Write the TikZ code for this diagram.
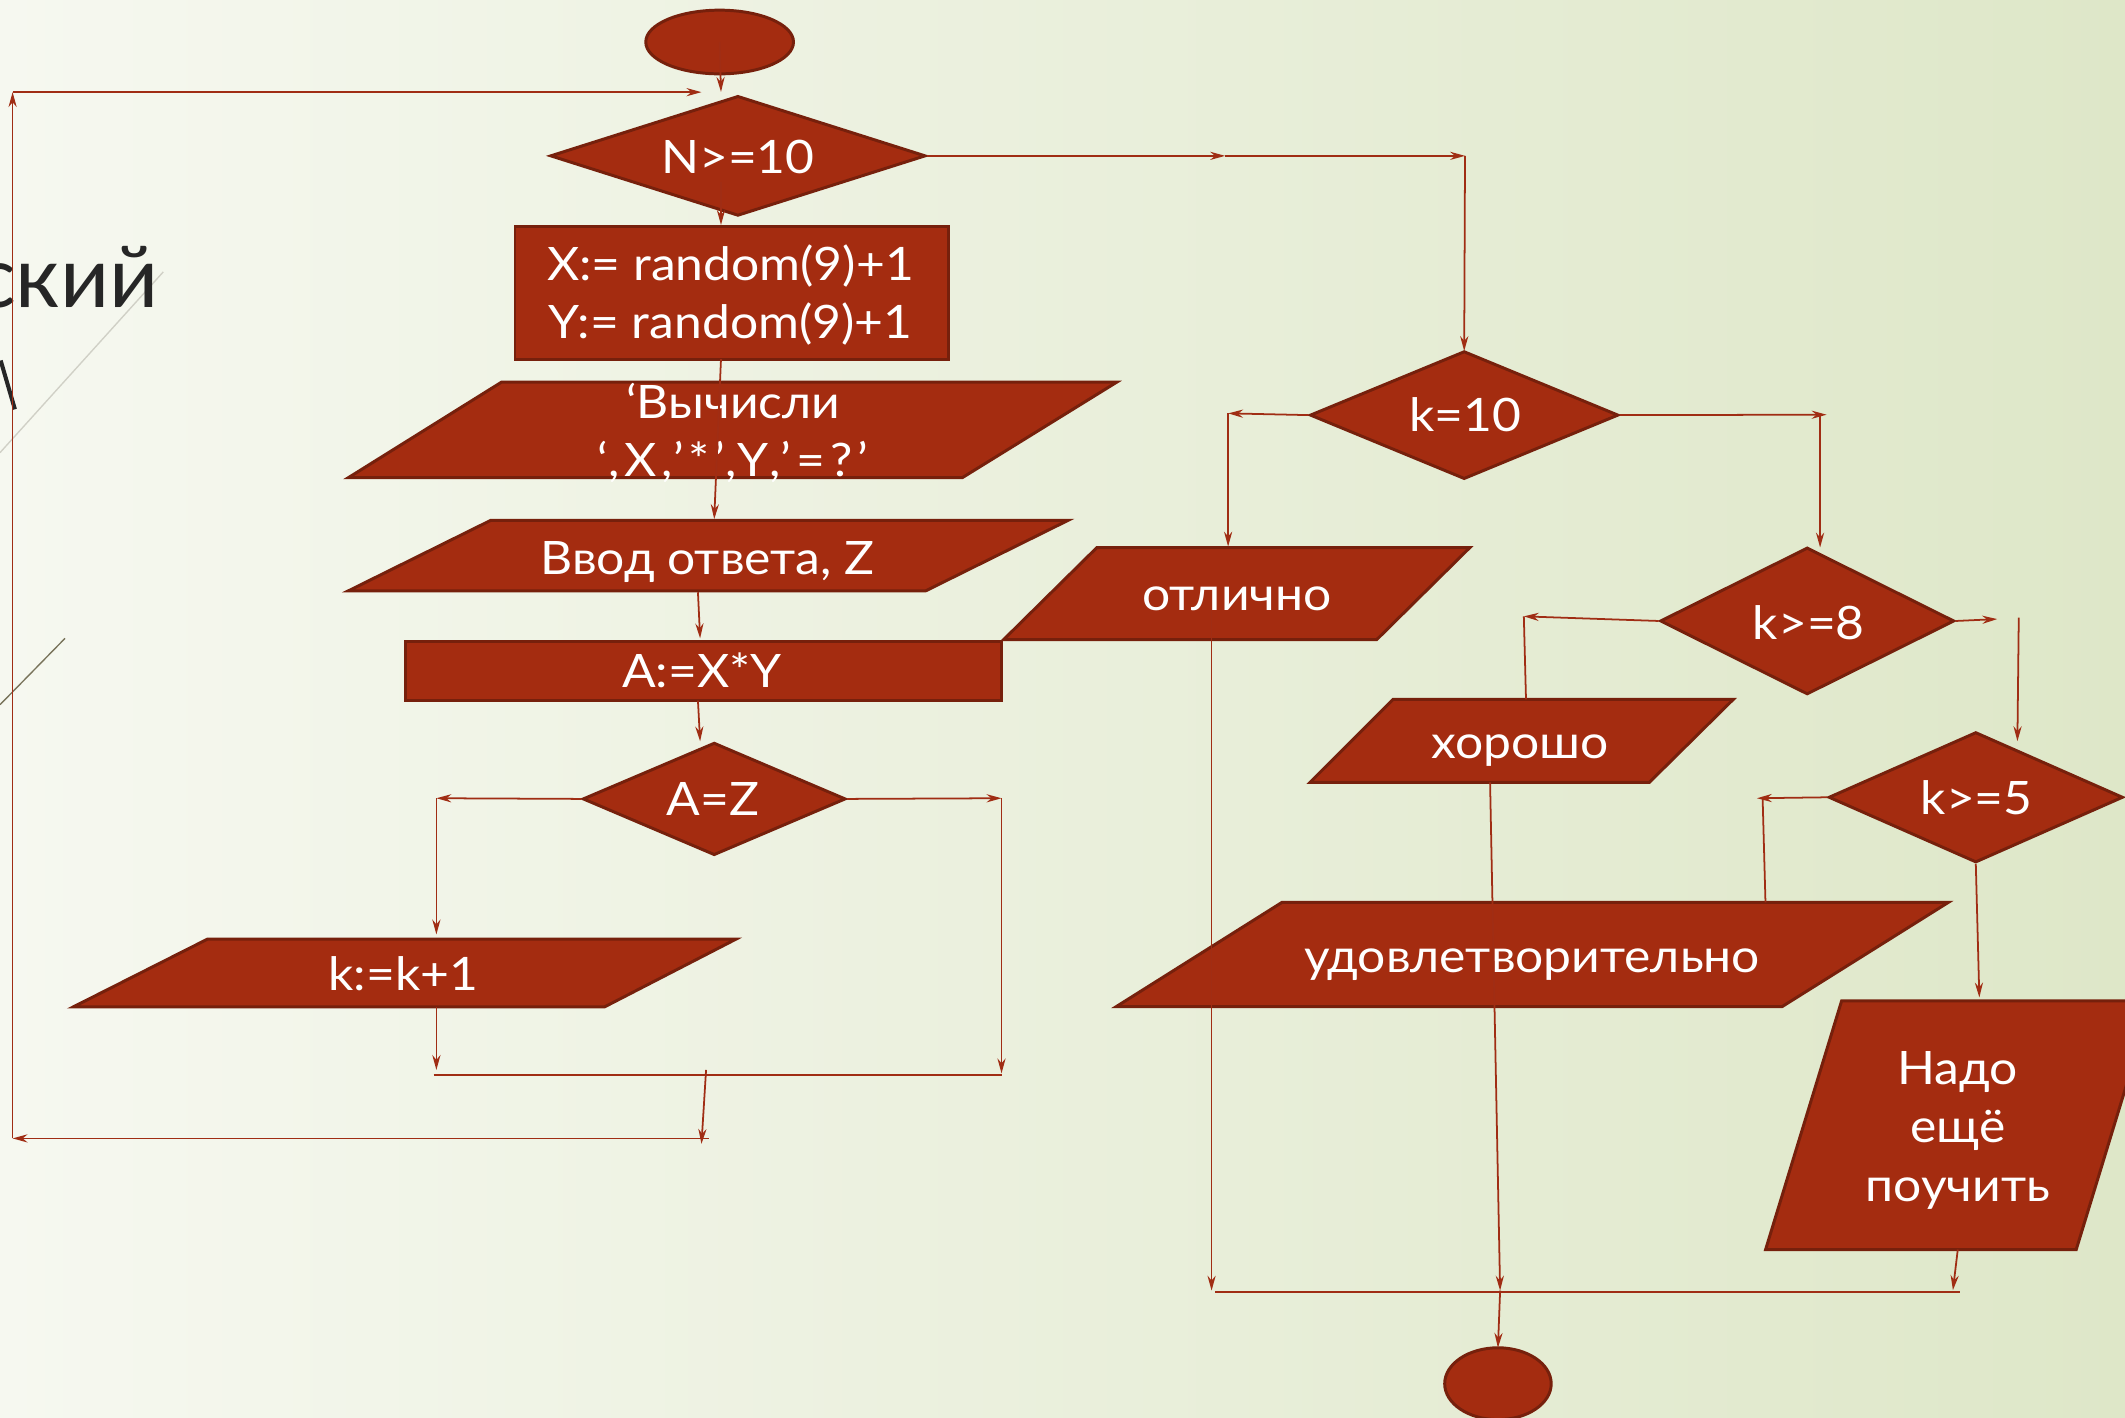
\documentclass[tikz,border=0pt]{standalone}
\usepackage{fontspec}
\usetikzlibrary{arrows.meta,shapes.geometric}
\newfontfamily\lbfont[FakeStretch=1.08]{Lato}
\newfontfamily\lbwide[FakeStretch=1.08,LetterSpace=11]{Lato}
\newfontfamily\ttlfont{Lato}
\definecolor{brick}{RGB}{164,44,16}
\definecolor{brickdk}{RGB}{118,32,12}
\definecolor{linec}{RGB}{160,45,20}
\definecolor{bgl}{RGB}{246,248,240}
\definecolor{bgr}{RGB}{222,231,200}
\definecolor{ttlc}{RGB}{38,38,38}
\tikzset{
  shp/.style={fill=brick, draw=brickdk, line width=2.2pt, line join=miter},
  con/.style={draw=linec, line width=1.3pt},
  arr/.style={con, -{Stealth[length=11pt,width=6pt]}},
  lbl/.style={text=white, inner sep=0pt, anchor=base, font=\lbfont\fontsize{34}{43}\selectfont},
}
\begin{document}
\begin{tikzpicture}[x=1pt,y=-1pt]
\useasboundingbox (0,0) rectangle (1568,1046.3);
\clip (0,0) rectangle (1568,1046.3);
\shade[left color=bgl, right color=bgr] (0,0) rectangle (1568,1046.3);
% decorative slide fragments
\draw[color={rgb,255:red,208;green,208;blue,198}, line width=1pt] (0,334) -- (120.5,200.6);
\draw[color={rgb,255:red,120;green,115;blue,90}, line width=1pt] (0,520) -- (48,471);
\node[anchor=base east, text=ttlc, inner sep=0pt, font=\ttlfont\fontsize{63}{70}\selectfont] (ttl) at (117,226.6) {ский};
\draw[ttlc, line width=3pt] (0.5,266) -- (11,302);

% shapes
\node[shp, ellipse, minimum width=109pt, minimum height=47pt, inner sep=0pt] (st) at (531,31) {};
\node[shp, diamond, minimum width=277pt, minimum height=88.5pt, inner sep=0pt] (d1) at (544.5,115) {};
\node[shp, rectangle, minimum width=320pt, minimum height=98pt, inner sep=0pt] (r1) at (540,216) {};
\path[shp] (370,282) -- (824,282) -- (710,352.5) -- (257,352.5) -- cycle;
\path[shp] (362,384) -- (788,384) -- (683,436) -- (257,436) -- cycle;
\node[shp, rectangle, minimum width=440pt, minimum height=44pt, inner sep=0pt] (r2) at (519,495) {};
\node[shp, diamond, minimum width=194pt, minimum height=83pt, inner sep=0pt] (d2) at (527,589.5) {};
\path[shp] (153,693) -- (543,693) -- (446,743) -- (54,743) -- cycle;
\node[shp, diamond, minimum width=227.6pt, minimum height=94.4pt, inner sep=0pt] (d3) at (1080.4,306.3) {};
\path[shp] (809.4,404) -- (1084.6,404) -- (1015.8,472) -- (740.5,472) -- cycle;
\node[shp, diamond, minimum width=217pt, minimum height=108.4pt, inner sep=0pt] (d4) at (1333.5,458.2) {};
\path[shp] (1028,516) -- (1279,516) -- (1217,577.3) -- (966.6,577.3) -- cycle;
\node[shp, diamond, minimum width=217.2pt, minimum height=96.2pt, inner sep=0pt] (d5) at (1457.9,588.3) {};
\path[shp] (946,665.8) -- (1437.7,665.8) -- (1314.9,742.8) -- (823.6,742.8) -- cycle;
\path[shp] (1358.9,738.5) -- (1588,738.5) -- (1532,922) -- (1302.8,922) -- cycle;
\node[shp, ellipse, minimum width=78.6pt, minimum height=53pt, inner sep=0pt] (en) at (1105.3,1021) {};

% texts
\node[lbl] (t1) at (544.5,128) {N>=10};
\node[lbl] (t2) at (539,207) {\begin{tabular}[t]{@{}c@{}}X:= random(9)+1\\Y:= random(9)+1\end{tabular}};
\node[lbl] (t3) at (541,308.7) {\begin{tabular}[t]{@{}c@{}}‘Вычисли\\{\lbwide‘,X,’*’,Y,’=?’}\end{tabular}};
\node[lbl] (t4) at (522,423.6) {Ввод ответа, Z};
\node[lbl] (t5) at (518,507) {A:=X*Y};
\node[lbl] (t6) at (526,601.6) {A=Z};
\node[lbl] (t7) at (297.6,731) {k:=k+1};
\node[lbl] (t8) at (1081,318.5) {k=10};
\node[lbl] (t9) at (912.6,450.7) {отлично};
\node[lbl] (t10) at (1334.7,471.7) {k>=8};
\node[lbl] (t11) at (1121.7,559.7) {хорошо};
\node[lbl] (t12) at (1458.6,601) {k>=5};
\node[lbl] (t13) at (1130.5,717.5) {удовлетворительно};
\node[lbl] (t14) at (1444.6,800.3) {\begin{tabular}[t]{@{}c@{}}Надо\\ещё\\поучить\end{tabular}};

% junction coordinates
\coordinate (d1in) at (532,67.8);
\coordinate (d1out) at (532,134);
\coordinate (r1in) at (532,166);
\coordinate (r1out) at (532,265);
\coordinate (p2in) at (527,383);
\coordinate (p2out) at (515,437);
\coordinate (r2in) at (516.6,471);
\coordinate (r2out) at (515,517);
\coordinate (d2in) at (516.6,547);
\coordinate (d2L) at (322,589);
\coordinate (p3in) at (322,689.5);
\coordinate (p3out) at (322,743);
\coordinate (m1L) at (322,789.5);
\coordinate (d2R) at (739,589);
\coordinate (m1R) at (739,792);
\coordinate (m1a) at (320,793);
\coordinate (m1b) at (739,793);
\coordinate (m1o) at (521,789.5);
\coordinate (lpBR) at (517.6,844);
\coordinate (lpR) at (523,840);
\coordinate (lpBL) at (9.3,840);
\coordinate (lpTL) at (9.3,68);
\coordinate (lpTR) at (517.6,68);
\coordinate (n1) at (904,115);
\coordinate (n2) at (1081,115);
\coordinate (d3in) at (1080.4,259);
\coordinate (d3L) at (906.2,305);
\coordinate (p4in) at (906.2,403.3);
\coordinate (d3R) at (1347.8,306);
\coordinate (d3Rv) at (1343,306);
\coordinate (d4in) at (1343,404);
\coordinate (p4out) at (894,449);
\coordinate (m2a) at (894,952.3);
\coordinate (d4L) at (1124.4,454.8);
\coordinate (p5in) at (1126,516);
\coordinate (d4R) at (1473.7,456.8);
\coordinate (d5t) at (1489.6,455.8);
\coordinate (d5in) at (1488.6,546.9);
\coordinate (p5out) at (1099.5,577.3);
\coordinate (m2b) at (1106.9,952.3);
\coordinate (enin) at (1105.3,994.5);
\coordinate (d5L) at (1296.4,589);
\coordinate (d5Lv) at (1300.6,589);
\coordinate (p6in) at (1302.7,665.8);
\coordinate (p7in) at (1460.5,736);
\coordinate (p7out) at (1444.6,922);
\coordinate (m2c) at (1441,952);
\coordinate (m2L) at (896.7,953.3);
\coordinate (m2R) at (1446,953.3);

% connectors
\draw[arr] (st.center) -- (d1in);
\draw[arr] (d1out) -- (r1in);
\draw[arr] (r1out) -- (p2in);
\draw[arr] (p2out) -- (r2in);
\draw[arr] (r2out) -- (d2in);
\draw[arr] (d2.west) -- (d2L);
\draw[arr] (d2L) -- (p3in);
\draw[arr] (p3out) -- (m1L);
\draw[arr] (d2.east) -- (d2R);
\draw[arr] (d2R) -- (m1R);
\draw[con] (m1a) -- (m1b);
\draw[arr] (m1o) -- (lpBR);
\draw[arr] (lpR) -- (lpBL);
\draw[arr] (lpBL) -- (lpTL);
\draw[arr] (lpTL) -- (lpTR);
\draw[arr] (d1.east) -- (n1);
\draw[arr] (n1) -- (n2);
\draw[arr] (n2) -- (d3in);
\draw[arr] (d3.west) -- (d3L);
\draw[arr] (d3L) -- (p4in);
\draw[arr] (d3.east) -- (d3R);
\draw[arr] (d3Rv) -- (d4in);
\draw[arr] (p4out) -- (m2a);
\draw[arr] (d4.west) -- (d4L);
\draw[con] (d4L) -- (p5in);
\draw[arr] (d4.east) -- (d4R);
\draw[arr] (d5t) -- (d5in);
\draw[arr] (p5out) -- (m2b);
\draw[arr] (m2b) -- (enin);
\draw[arr] (d5.west) -- (d5L);
\draw[con] (d5Lv) -- (p6in);
\draw[arr] (d5.south) -- (p7in);
\draw[arr] (p7out) -- (m2c);
\draw[con] (m2L) -- (m2R);
\end{tikzpicture}
\end{document}
